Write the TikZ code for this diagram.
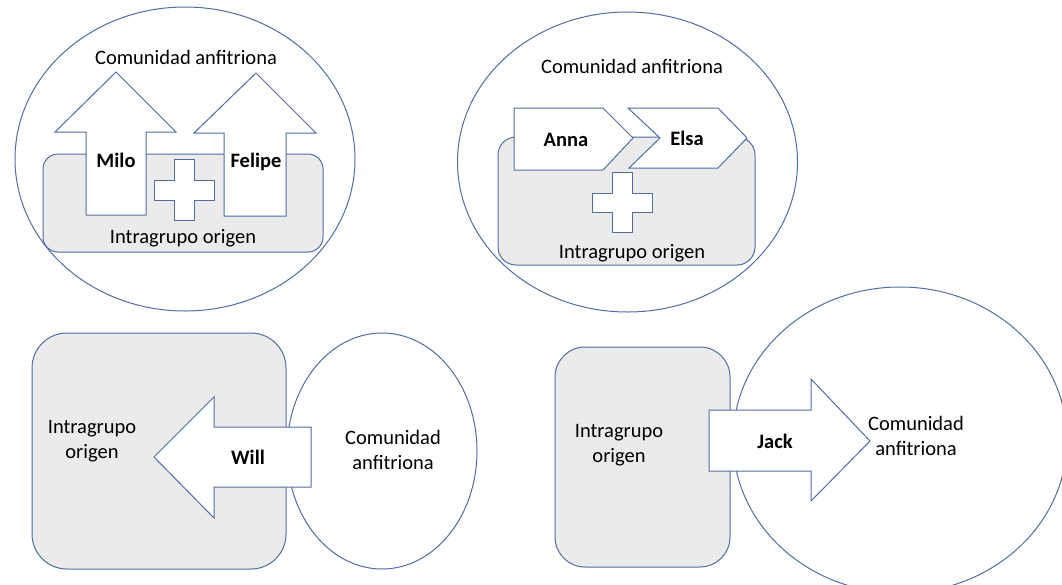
\documentclass[tikz,border=0pt]{standalone}
\usepackage{fontspec}
\setmainfont{Carlito}
\begin{document}
\begin{tikzpicture}[x=1pt,y=-1pt,
  line width=1pt,
  every node/.style={inner sep=0pt, font=\fontsize{20.5}{25.5}\selectfont},
  outline/.style={draw=edgeblue, fill=white},
  groupbox/.style={draw=edgeblue, fill=groupgray},
  personlabel/.style={font=\fontsize{20.5}{25.5}\selectfont\bfseries},
  twoline/.style={align=center}]
\definecolor{edgeblue}{HTML}{4F6EA6}
\definecolor{groupgray}{HTML}{EBEBEB}
\path[use as bounding box] (0,0) rectangle (1062,584);
\clip (0,0) rectangle (1062,584);

% ---- Milo and Felipe: two upward arrows leaving the group together
\draw[outline] (185,159) ellipse [x radius=170, y radius=152];
\draw[groupbox, rounded corners=15] (43,154) rectangle (323,252);
\draw[outline] (86,215) -- (86,132) -- (55,132) -- (116,72) -- (176,132)
  -- (146,132) -- (146,215) -- cycle;
\draw[outline] (224,216) -- (224,133) -- (194,133) -- (256,73) -- (316,133)
  -- (286,133) -- (286,216) -- cycle;
\draw[outline] (174,159) -- (194,159) -- (194,180) -- (214,180) -- (214,200)
  -- (194,200) -- (194,220) -- (174,220) -- (174,200) -- (154,200)
  -- (154,180) -- (174,180) -- cycle;
\node (hostA) at (186,57) {Comunidad anfitriona};
\node[personlabel] (milo) at (116,160) {Milo};
\node[personlabel] (felipe) at (256,162) {Felipe};
\node (groupA) at (183,238) {Intragrupo origen};

% ---- Anna and Elsa: two chevrons moving forward inside the group
\draw[outline] (627.5,162) ellipse [x radius=170, y radius=150];
\draw[groupbox, rounded corners=18] (498,137) rectangle (755,265);
\draw[outline] (514,108) -- (603,108) -- (633,138) -- (603,170) -- (514,170) -- cycle;
\draw[outline] (628,108) -- (718,108) -- (747,138) -- (718,168) -- (629,168)
  -- (660,138) -- cycle;
\draw[outline] (612,172) -- (632,172) -- (632,193) -- (652,193) -- (652,212)
  -- (632,212) -- (632,232) -- (612,232) -- (612,212) -- (592,212)
  -- (592,193) -- (612,193) -- cycle;
\node (hostB) at (632,66) {Comunidad anfitriona};
\node[personlabel] (anna) at (566,140) {Anna};
\node[personlabel] (elsa) at (687,138) {Elsa};
\node (groupB) at (632,253) {Intragrupo origen};

% ---- Will: arrow back from the host community to the group
\draw[groupbox, rounded corners=35] (32,333) rectangle (286,569);
\draw[outline] (382,451) ellipse [x radius=95, y radius=118];
\draw[outline] (311,427) -- (214,427) -- (214,397) -- (154,457) -- (214,518)
  -- (214,487) -- (311,487) -- cycle;
\node[twoline] (groupC) at (92,441) {Intragrupo\\origen};
\node[personlabel] (will) at (248,457) {Will};
\node[twoline] (hostC) at (393,450) {Comunidad\\anfitriona};

% ---- Jack: arrow from the group into the host community
\draw[groupbox, rounded corners=30] (555,347) rectangle (730,567);
\draw[outline] (900,440) ellipse [x radius=167, y radius=153];
\draw[outline] (709,410) -- (811,410) -- (811,379) -- (870,441) -- (811,501)
  -- (811,471) -- (709,471) -- cycle;
\node[twoline] (groupD) at (619,445) {Intragrupo\\origen};
\node[personlabel] (jack) at (775,441) {Jack};
\node[twoline] (hostD) at (916,436) {Comunidad\\anfitriona};
\end{tikzpicture}
\end{document}
